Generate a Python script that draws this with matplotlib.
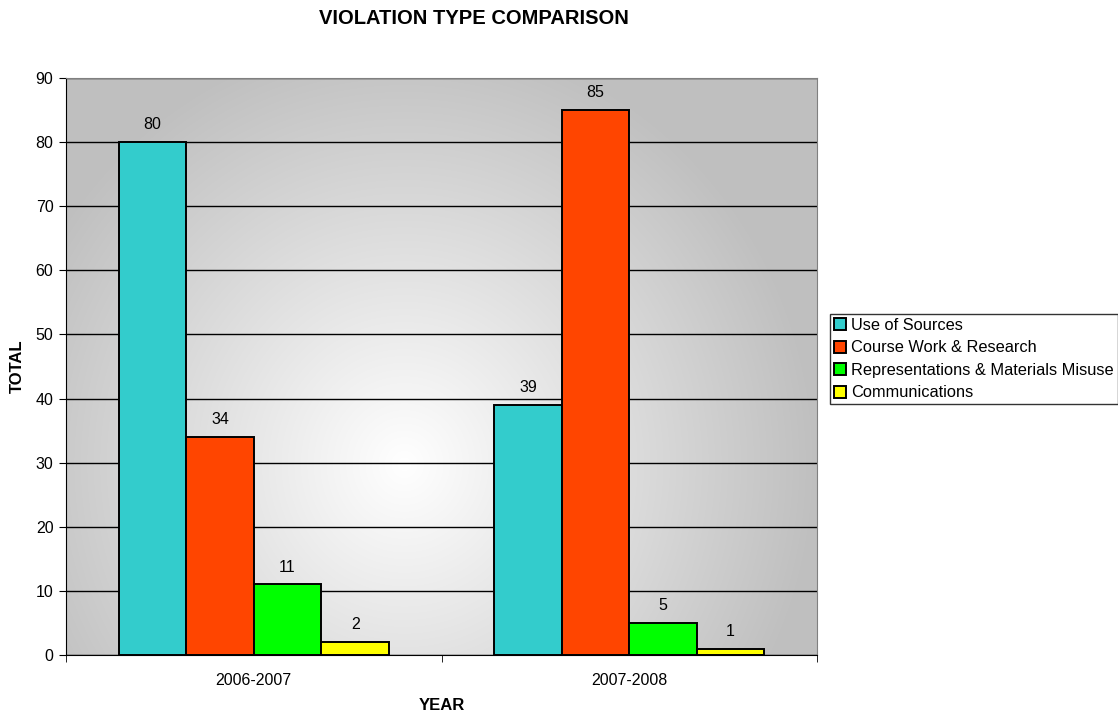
import numpy as np
import matplotlib.pyplot as plt

plt.rcParams['font.family'] = ['Liberation Sans', 'DejaVu Sans']

years = ['2006-2007', '2007-2008']
series = ['Use of Sources', 'Course Work & Research',
          'Representations & Materials Misuse', 'Communications']
values = {
    'Use of Sources': [80, 39],
    'Course Work & Research': [34, 85],
    'Representations & Materials Misuse': [11, 5],
    'Communications': [2, 1],
}
colors = ['#33cccc', '#ff4500', '#00ff00', '#ffff00']

fig = plt.figure(figsize=(11.18, 7.14), dpi=100)
ax = fig.add_axes([66 / 1118, 59 / 714, 751 / 1118, 577 / 714])

# radial grey background
xx, yy = np.meshgrid(np.linspace(0, 1, 400), np.linspace(0, 1, 400))
r = np.sqrt(((xx - 0.45) / 0.55) ** 2 + ((yy - 0.33) / 0.75) ** 2)
g = 0.75 + 0.25 * np.clip(1 - r, 0, 1)
bg = np.dstack([g, g, g])
ax.imshow(bg, extent=[0, 1, 0, 1], transform=ax.transAxes, origin='lower',
          aspect='auto', zorder=0, interpolation='bilinear')

x = np.arange(len(years))
w = 0.18
for i, name in enumerate(series):
    pos = x + (i - 1.5) * w
    bars = ax.bar(pos, values[name], w, color=colors[i], edgecolor='black',
                  linewidth=1.4, label=name, zorder=3)
    for b, v in zip(bars, values[name]):
        ax.annotate(str(v), (b.get_x() + b.get_width() / 2, v), xytext=(0, 7),
                    textcoords='offset points', ha='center', va='bottom',
                    fontsize=11.5, zorder=4)

ax.set_xlim(-0.5, 1.5)
ax.set_ylim(0, 90)
ax.set_yticks(range(0, 91, 10))
ax.yaxis.grid(True, color='black', linewidth=1.0, zorder=1)
ax.set_axisbelow(True)
ax.set_xticks(x)
ax.set_xticklabels(years, fontsize=11.5)
ax.set_xticks([-0.5, 0.5, 1.5], minor=True)
ax.tick_params(axis='x', which='major', length=0, pad=13)
ax.tick_params(axis='x', which='minor', length=5, direction='out')
ax.tick_params(axis='y', length=5, direction='out', labelsize=11.5, pad=4)
for s in ['top', 'right']:
    ax.spines[s].set_color('#808080')
ax.spines['left'].set_color('black')
ax.spines['bottom'].set_color('black')

ax.set_ylabel('TOTAL', fontsize=12, fontweight='bold')
ax.yaxis.set_label_coords(-0.065, 0.5)
ax.set_xlabel('YEAR', fontsize=12, fontweight='bold')
ax.xaxis.set_label_coords(0.5, -0.087)
ax.xaxis.label.set_va('center')
ax.yaxis.label.set_va('center')
fig.suptitle('VIOLATION TYPE COMPARISON', x=474 / 1118, y=1 - 18 / 714,
             fontsize=14.5, fontweight='bold', va='center')

leg = ax.legend(loc='upper left', bbox_to_anchor=(830 / 1118, 1 - 314 / 714),
                bbox_transform=fig.transFigure, fontsize=11.8, frameon=True,
                fancybox=False, edgecolor='black', handlelength=0.75,
                handleheight=0.75, handletextpad=0.3, borderpad=0.25,
                labelspacing=0.45, borderaxespad=0)
leg.get_frame().set_linewidth(1.0)

fig.savefig('out.png', dpi=100)
